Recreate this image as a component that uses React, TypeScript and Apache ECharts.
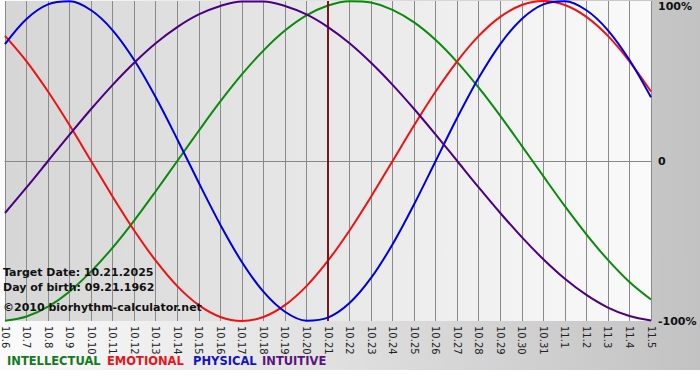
import React, { useEffect, useRef } from "react";
import * as echarts from "echarts";

const categories = [
  "10.6", "10.7", "10.8", "10.9", "10.10", "10.11", "10.12", "10.13", "10.14", "10.15",
  "10.16", "10.17", "10.18", "10.19", "10.20", "10.21", "10.22", "10.23", "10.24", "10.25",
  "10.26", "10.27", "10.28", "10.29", "10.30", "10.31", "11.1", "11.2", "11.3", "11.4", "11.5",
];

const physical = [
  0.731, 0.888, 0.979, 0.998, 0.942, 0.817, 0.631, 0.398, 0.136, -0.136,
  -0.398, -0.631, -0.817, -0.942, -0.998, -0.979, -0.888, -0.731, -0.52, -0.27,
  0, 0.27, 0.52, 0.731, 0.888, 0.979, 0.998, 0.942, 0.817, 0.631, 0.398,
];

const emotional = [
  0.782, 0.623, 0.434, 0.223, 0, -0.223, -0.434, -0.623, -0.782, -0.901,
  -0.975, -1.0, -0.975, -0.901, -0.782, -0.623, -0.434, -0.223, 0, 0.223,
  0.434, 0.623, 0.782, 0.901, 0.975, 1.0, 0.975, 0.901, 0.782, 0.623, 0.434,
];

const intellectual = [
  -0.999, -0.972, -0.91, -0.815, -0.69, -0.541, -0.372, -0.189, 0, 0.189,
  0.372, 0.541, 0.69, 0.815, 0.91, 0.972, 0.999, 0.99, 0.945, 0.866,
  0.756, 0.618, 0.458, 0.282, 0.095, -0.095, -0.282, -0.458, -0.618, -0.756, -0.866,
];

const intuitive = [
  -0.325, -0.165, 0, 0.165, 0.325, 0.476, 0.614, 0.736, 0.837, 0.916,
  0.969, 0.997, 0.997, 0.969, 0.916, 0.837, 0.736, 0.614, 0.476, 0.325,
  0.165, 0, -0.165, -0.325, -0.476, -0.614, -0.736, -0.837, -0.916, -0.969, -0.997,
];

const seriesNames = ["INTELLECTUAL", "EMOTIONAL", "PHYSICAL", "INTUITIVE"];
const seriesColors = ["#0a8a0a", "#ee1111", "#0000dd", "#4b0082"];
const legendColors = ["#137a1e", "#e8141c", "#1414c0", "#5a1480"];
const legendX = [7, 107, 193, 262];
const targetCategory = "10.21";
const infoLines = [
  "Target Date: 10.21.2025",
  "Day of birth: 09.21.1962",
  "©2010 biorhythm-calculator.net",
];
const infoY = [272, 287, 307];
const yTickLabels: Record<string, string> = { "-1": "-100%", "0": "0", "1": "100%" };

const FONT = "DejaVu Sans";

export default function App() {
  const ref = useRef<HTMLDivElement>(null);

  useEffect(() => {
    if (!ref.current) return;
    const chart = echarts.init(ref.current, undefined, { renderer: "svg" });
    const data = [intellectual, emotional, physical, intuitive];

    const option: any = {
      animation: false,
      backgroundColor: {
        type: "linear",
        x: 0, y: 0, x2: 1, y2: 0,
        colorStops: [
          { offset: 0, color: "#fbfbfb" },
          { offset: 1, color: "#c2c2c2" },
        ],
      },
      grid: {
        left: 0,
        right: 49,
        top: 1,
        bottom: 59,
        show: true,
        borderWidth: 0,
        backgroundColor: {
          type: "linear",
          x: 0, y: 0, x2: 1, y2: 0,
          colorStops: [
            { offset: 0, color: "#d6d6d6" },
            { offset: 1, color: "#fafafa" },
          ],
        },
      },
      xAxis: {
        type: "category",
        data: categories,
        boundaryGap: false,
        axisLine: { show: true, lineStyle: { color: "#888888", width: 1 } },
        axisTick: { show: true, length: 4, lineStyle: { color: "#888888" } },
        axisLabel: {
          interval: 0,
          rotate: -90,
          margin: 5,
          color: "#222222",
          fontFamily: FONT,
          fontSize: 10,
        },
        splitLine: { show: true, lineStyle: { color: "#8a8a8a", width: 1 } },
      },
      yAxis: {
        type: "value",
        position: "right",
        min: -1,
        max: 1,
        interval: 1,
        axisLine: { show: false },
        axisTick: { show: false },
        axisLabel: {
          margin: 7,
          color: "#111111",
          fontFamily: FONT,
          fontWeight: "bold",
          fontSize: 11,
          verticalAlignMaxLabel: "top",
          formatter: (v: number) => yTickLabels[String(v)] ?? "",
        },
        splitLine: {
          show: true,
          lineStyle: { color: ["rgba(0,0,0,0)", "#8a8a8a", "rgba(0,0,0,0)"], width: 1 },
        },
      },
      series: seriesNames.map((name, i) => ({
        name,
        type: "line",
        data: data[i],
        smooth: 0.33,
        symbol: "none",
        lineStyle: { color: seriesColors[i], width: 2 },
        itemStyle: { color: seriesColors[i] },
        z: 3 + i,
        markLine:
          i === 0
            ? {
                symbol: "none",
                silent: true,
                label: { show: false },
                lineStyle: { color: "#7a1616", width: 2, type: "solid" },
                data: [{ xAxis: targetCategory }],
              }
            : undefined,
      })),
      graphic: [
        {
          type: "rect",
          left: 0,
          top: 370,
          shape: { width: 700, height: 10 },
          style: { fill: "#ffffff" },
          silent: true,
        },
        ...infoLines.map((t, i) => ({
          type: "text",
          x: 3,
          y: infoY[i],
          z: 100,
          style: {
            text: t,
            fill: "#111111",
            font: `bold 11px "${FONT}"`,
            verticalAlign: "middle",
          },
        })),
        ...seriesNames.map((n, i) => ({
          type: "text",
          x: legendX[i],
          y: 361,
          z: 100,
          style: {
            text: n,
            fill: legendColors[i],
            font: `bold 11.5px "${FONT}"`,
            verticalAlign: "middle",
          },
        })),
      ],
    };

    chart.setOption(option);
    return () => chart.dispose();
  }, []);

  return (
    <div
      ref={ref}
      style={{ position: "absolute", left: 0, top: 0, width: 700, height: 380 }}
    />
  );
}
